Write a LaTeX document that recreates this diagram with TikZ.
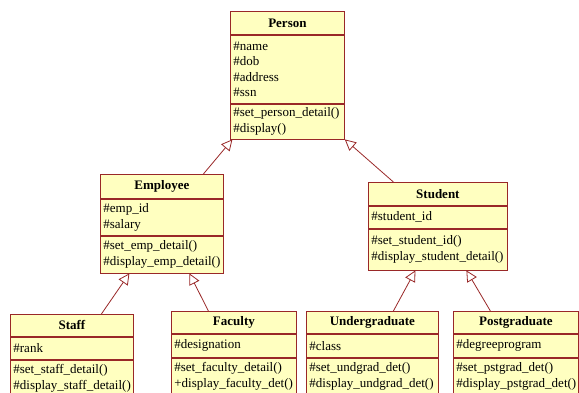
\documentclass[tikz,border=0pt]{standalone}
\usepackage{fontspec}
\setmainfont{Liberation Serif}
\usetikzlibrary{positioning, arrows.meta}
\definecolor{umlred}{RGB}{153,40,40}
\definecolor{umlfill}{RGB}{255,255,192}
\newcommand{\classfont}{\fontsize{13}{15.5}\selectfont}
\hyphenpenalty=10000
\tikzstyle{classname} = [rectangle, anchor=north west, draw=umlred, fill=umlfill, line width=0.8pt, inner sep=0pt, font=\classfont\bfseries, text centered]
\tikzstyle{classpart} = [rectangle, draw=umlred, fill=umlfill, line width=0.8pt, inner xsep=3pt, inner ysep=1pt, font=\classfont, align=left]
\tikzstyle{inherit} = [draw=umlred, line width=0.8pt, -{Triangle[open, length=11pt, width=11pt]}]

\begin{document}
\begin{tikzpicture}[x=1pt, y=-1pt]
\clip (0,0) rectangle (579,392);

\node (person) [classname, minimum width=114pt, minimum height=23pt] at (230,11) {Person};
\node (person-attr) [classpart, text width=108pt, minimum height=68pt, below=0pt of person] {\#name\\\#dob\\\#address\\\#ssn};
\node (person-ops) [classpart, text width=108pt, minimum height=35pt, below=0pt of person-attr] {\#set\_person\_detail()\\\#display()};

\node (employee) [classname, minimum width=123pt, minimum height=24pt] at (100,174) {Employee};
\node (employee-attr) [classpart, text width=117pt, minimum height=36pt, below=0pt of employee] {\#emp\_id\\\#salary};
\node (employee-ops) [classpart, text width=117pt, minimum height=37pt, below=0pt of employee-attr] {\#set\_emp\_detail()\\\#display\_emp\_detail()};

\node (student) [classname, minimum width=139pt, minimum height=23pt] at (368,182) {Student};
\node (student-attr) [classpart, text width=133pt, minimum height=22pt, below=0pt of student] {\#student\_id};
\node (student-ops) [classpart, text width=133pt, minimum height=41pt, below=0pt of student-attr] {\#set\_student\_id()\\\#display\_student\_detail()};

\node (staff) [classname, minimum width=123pt, minimum height=22pt] at (10,314) {Staff};
\node (staff-attr) [classpart, text width=117pt, minimum height=22pt, below=0pt of staff] {\#rank};
\node (staff-ops) [classpart, text width=117pt, minimum height=37pt, below=0pt of staff-attr] {\#set\_staff\_detail()\\\#display\_staff\_detail()};

\node (faculty) [classname, minimum width=125pt, minimum height=22pt] at (171,311) {Faculty};
\node (faculty-attr) [classpart, text width=119pt, minimum height=23pt, below=0pt of faculty] {\#designation};
\node (faculty-ops) [classpart, text width=119pt, minimum height=37pt, below=0pt of faculty-attr] {\#set\_faculty\_detail()\\+display\_faculty\_det()};

\node (undergrad) [classname, minimum width=132pt, minimum height=22pt] at (306,311) {Undergraduate};
\node (undergrad-attr) [classpart, text width=126pt, minimum height=23pt, below=0pt of undergrad] {\#class};
\node (undergrad-ops) [classpart, text width=126pt, minimum height=37pt, below=0pt of undergrad-attr] {\#set\_undgrad\_det()\\\#display\_undgrad\_det()};

\node (postgrad) [classname, minimum width=125pt, minimum height=22pt] at (453,311) {Postgraduate};
\node (postgrad-attr) [classpart, text width=119pt, minimum height=23pt, below=0pt of postgrad] {\#degreeprogram};
\node (postgrad-ops) [classpart, text width=119pt, minimum height=37pt, below=0pt of postgrad-attr] {\#set\_pstgrad\_det()\\\#display\_pstgrad\_det()};

\draw [inherit] ([xshift=41.5pt]employee.north) -- ([xshift=-55pt]person-ops.south);
\draw [inherit] ([xshift=-44.5pt]student.north) -- (person-ops.south east);
\draw [inherit] ([xshift=29.5pt]staff.north) -- ([xshift=-32.5pt]employee-ops.south);
\draw [inherit] ([xshift=-25.5pt]faculty.north) -- ([xshift=27.5pt]employee-ops.south);
\draw [inherit] ([xshift=21pt]undergrad.north) -- ([xshift=-22.5pt]student-ops.south);
\draw [inherit] ([xshift=-25.5pt]postgrad.north) -- ([xshift=28.5pt]student-ops.south);

\end{tikzpicture}
\end{document}
